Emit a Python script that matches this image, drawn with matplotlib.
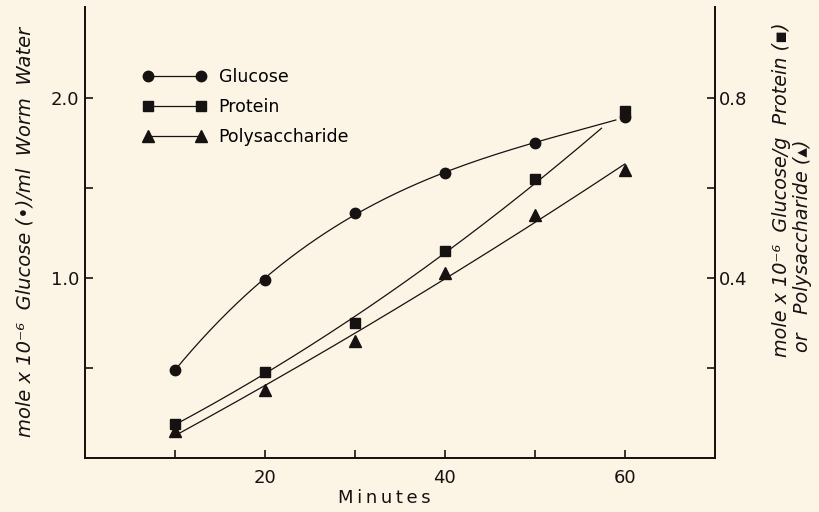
import numpy as np
import matplotlib
matplotlib.use("Agg")
import matplotlib.pyplot as plt

# values (left axis units: mole x 10^-6)
minutes = [10, 20, 30, 40, 50, 60]
glucose = [0.49, 0.99, 1.36, 1.58, 1.75, 1.89]
# right axis units (mole x 10^-6 glucose / g)
protein = [0.076, 0.19, 0.30, 0.46, 0.62, 0.77]
polysaccharide = [0.06, 0.15, 0.26, 0.41, 0.54, 0.64]

bg = "#fcf4e5"
ink = "#161212"

plt.rcParams["font.family"] = ["DejaVu Sans"]

fig = plt.figure(figsize=(8.2, 5.12), dpi=100, facecolor=bg)
ax = fig.add_axes([0.1037, 0.1055, 0.768, 0.88], facecolor=bg)
ax2 = ax.twinx()

ax.set_xlim(0, 70)
ax.set_ylim(0, 2.5)
ax2.set_ylim(0, 1.0)


def smooth(x, y, deg, x_end):
    coef = np.polyfit(x, y, deg)
    xs = np.linspace(x[0], x_end, 200)
    return xs, np.polyval(coef, xs)


# fitted curves drawn by hand in the original
gx, gy = smooth(minutes, glucose, 3, 59)
ax.plot(gx, gy, color=ink, lw=0.9)
px, py = smooth(minutes, protein, 2, 57.4)
ax2.plot(px, py, color=ink, lw=0.9)
sx, sy = smooth(minutes, polysaccharide, 2, 60)
ax2.plot(sx, sy, color=ink, lw=0.9)

ax.plot(minutes, glucose, "o", color=ink, ms=7.5, zorder=5)
ax2.plot(minutes, protein, "s", color=ink, ms=7.5, zorder=5)
ax2.plot(minutes, polysaccharide, "^", color=ink, ms=8, zorder=5)

# legend: marker - line - marker
h1, = ax.plot([], [], "-o", color=ink, ms=7.5, lw=0.9)
h2, = ax.plot([], [], "-s", color=ink, ms=7.5, lw=0.9)
h3, = ax.plot([], [], "-^", color=ink, ms=8, lw=0.9)
ax.legend([h1, h2, h3], ["Glucose", "Protein", "Polysaccharide"],
          numpoints=2, frameon=False, fontsize=12.5, handlelength=3.7,
          handletextpad=0.7, labelspacing=0.68, loc="upper left",
          bbox_to_anchor=(0.08, 0.88), borderaxespad=0)

for a in (ax, ax2):
    a.spines["top"].set_visible(False)
    for s in a.spines.values():
        s.set_linewidth(1.3)
        s.set_color(ink)

ax.set_xticks(minutes)
ax.set_xticklabels(["", "20", "", "40", "", "60"])
ax.set_yticks([0.5, 1.0, 1.5, 2.0])
ax.set_yticklabels(["", "1.0", "", "2.0"])
ax2.set_yticks([0.2, 0.4, 0.6, 0.8])
ax2.set_yticklabels(["", "0.4", "", "0.8"])

ax.tick_params(axis="both", direction="in", length=6, width=1.2,
               color=ink, labelcolor=ink, labelsize=13)
ax.tick_params(axis="x", pad=8)
ax.tick_params(axis="y", pad=4)
ax2.tick_params(axis="y", direction="in", length=6, width=1.2,
                color=ink, labelcolor=ink, labelsize=13, pad=3)

fig.text(384 / 820, 1 - 498 / 512, "M\u2009i\u2009n\u2009u\u2009t\u2009e\u2009s",
         ha="center", va="center", fontsize=13, color=ink)

fig.text(25 / 820, 1 - 232 / 512,
         "mole x 10\u207b\u2076  Glucose (\u2022)/ml  Worm  Water",
         rotation=90, ha="center", va="center", fontsize=14,
         style="italic", color=ink)
fig.text(782 / 820, 1 - 357 / 512,
         "mole x 10\u207b\u2076  Glucose/g  Protein (\u25aa)",
         rotation=90, ha="center", va="bottom", fontsize=13.8,
         style="italic", color=ink)
fig.text(803 / 820, 1 - 352 / 512,
         "or   Polysaccharide (\u25b4)",
         rotation=90, ha="center", va="bottom", fontsize=13.8,
         style="italic", color=ink)

fig.savefig("out.png", dpi=100, facecolor=bg)
